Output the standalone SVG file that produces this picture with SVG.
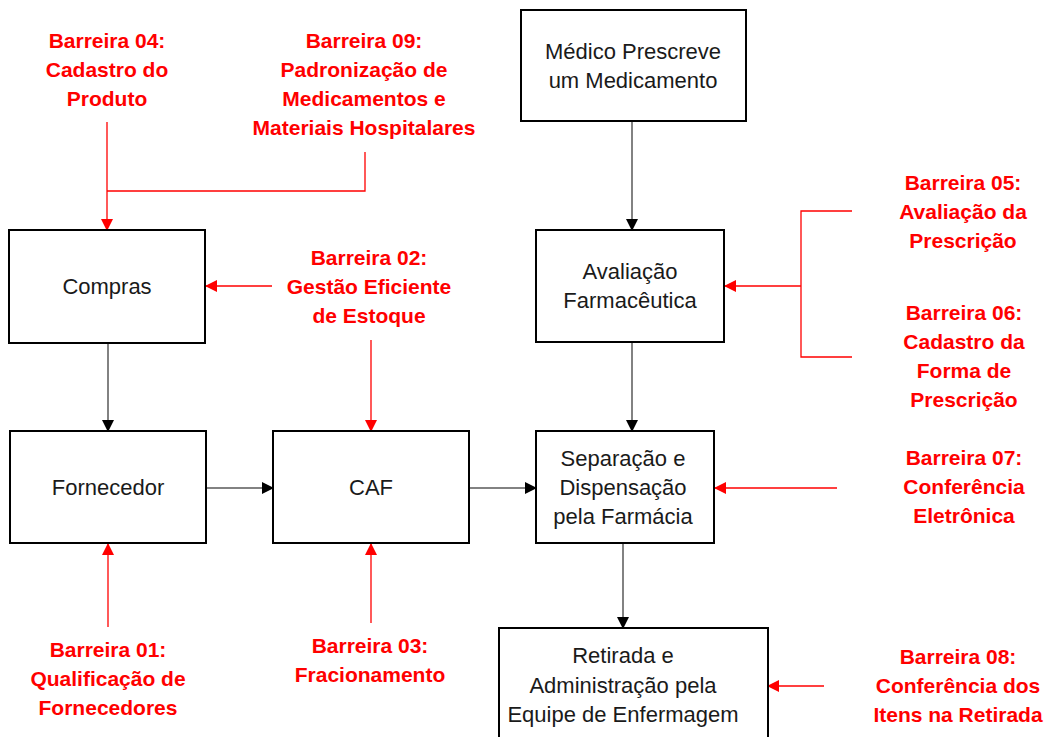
<svg xmlns="http://www.w3.org/2000/svg" width="1047" height="737" viewBox="0 0 1047 737">
<style>
.box{fill:#fff;stroke:#000;stroke-width:2}
.t{font-family:"Liberation Sans",Arial,sans-serif;font-size:22px;fill:#1a1a1a;text-anchor:middle}
.r{font-family:"Liberation Sans",Arial,sans-serif;font-size:21px;font-weight:bold;fill:#ff0000;text-anchor:middle}
.k{fill:none;stroke:#595959;stroke-width:1.5}
.rl{fill:none;stroke:#ff0000;stroke-width:1.3}
</style>
<defs>
<marker id="ak" markerUnits="userSpaceOnUse" markerWidth="12" markerHeight="12" viewBox="0 0 12 12" refX="11" refY="6" orient="auto"><path d="M0,0 L12,6 L0,12 Z" fill="#000"/></marker>
<marker id="ar" markerUnits="userSpaceOnUse" markerWidth="12" markerHeight="12" viewBox="0 0 12 12" refX="11" refY="6" orient="auto"><path d="M0,0 L12,6 L0,12 Z" fill="#ff0000"/></marker>
</defs>
<g id="connectors">
<line class="k" x1="632" y1="121" x2="632" y2="230" marker-end="url(#ak)"/>
<line class="k" x1="108" y1="343" x2="108" y2="431" marker-end="url(#ak)"/>
<line class="k" x1="206" y1="488" x2="273" y2="488" marker-end="url(#ak)"/>
<line class="k" x1="469" y1="488" x2="536" y2="488" marker-end="url(#ak)"/>
<line class="k" x1="632" y1="342" x2="632" y2="431" marker-end="url(#ak)"/>
<line class="k" x1="623" y1="543" x2="623" y2="628" marker-end="url(#ak)"/>
<line class="rl" x1="107" y1="122" x2="107" y2="230" marker-end="url(#ar)"/>
<polyline class="rl" points="365,152 365,191 107,191"/>
<line class="rl" x1="272" y1="286" x2="206" y2="286" marker-end="url(#ar)"/>
<line class="rl" x1="371" y1="340" x2="371" y2="431" marker-end="url(#ar)"/>
<line class="rl" x1="108" y1="627" x2="108" y2="544" marker-end="url(#ar)"/>
<line class="rl" x1="371" y1="623" x2="371" y2="544" marker-end="url(#ar)"/>
<polyline class="rl" points="852,211 801,211 801,357 852,357"/>
<line class="rl" x1="801" y1="286" x2="725" y2="286" marker-end="url(#ar)"/>
<line class="rl" x1="837" y1="488" x2="715" y2="488" marker-end="url(#ar)"/>
<line class="rl" x1="824" y1="686" x2="768" y2="686" marker-end="url(#ar)"/>
</g>
<g id="medico"><rect class="box" x="521" y="10" width="225" height="111"/><text class="t" x="633" y="59">Médico Prescreve</text><text class="t" x="633" y="88">um Medicamento</text></g>
<g id="compras"><rect class="box" x="9" y="230" width="196" height="113"/><text class="t" x="107" y="294">Compras</text></g>
<g id="avaliacao"><rect class="box" x="536" y="230" width="188" height="112"/><text class="t" x="630" y="279">Avaliação</text><text class="t" x="630" y="308">Farmacêutica</text></g>
<g id="fornecedor"><rect class="box" x="10" y="431" width="196" height="112"/><text class="t" x="108" y="495">Fornecedor</text></g>
<g id="caf"><rect class="box" x="273" y="431" width="196" height="112"/><text class="t" x="371" y="495">CAF</text></g>
<g id="separacao"><rect class="box" x="536" y="431" width="178" height="112"/><text class="t" x="623" y="466">Separação e</text><text class="t" x="623" y="495">Dispensação</text><text class="t" x="623" y="524">pela Farmácia</text></g>
<g id="retirada"><rect class="box" x="499" y="628" width="269" height="115"/><text class="t" x="623" y="663">Retirada e</text><text class="t" x="623" y="693">Administração pela</text><text class="t" x="623" y="722">Equipe de Enfermagem</text></g>
<g id="b04"><text class="r" x="107" y="48">Barreira 04:</text><text class="r" x="107" y="77">Cadastro do</text><text class="r" x="107" y="106">Produto</text></g>
<g id="b09"><text class="r" x="364" y="48">Barreira 09:</text><text class="r" x="364" y="77">Padronização de</text><text class="r" x="364" y="106">Medicamentos e</text><text class="r" x="364" y="135">Materiais Hospitalares</text></g>
<g id="b02"><text class="r" x="369" y="265">Barreira 02:</text><text class="r" x="369" y="294">Gestão Eficiente</text><text class="r" x="369" y="323">de Estoque</text></g>
<g id="b05"><text class="r" x="963" y="190">Barreira 05:</text><text class="r" x="963" y="219">Avaliação da</text><text class="r" x="963" y="248">Prescrição</text></g>
<g id="b06"><text class="r" x="964" y="320">Barreira 06:</text><text class="r" x="964" y="349">Cadastro da</text><text class="r" x="964" y="378">Forma de</text><text class="r" x="964" y="407">Prescrição</text></g>
<g id="b07"><text class="r" x="964" y="465">Barreira 07:</text><text class="r" x="964" y="494">Conferência</text><text class="r" x="964" y="523">Eletrônica</text></g>
<g id="b08"><text class="r" x="958" y="664">Barreira 08:</text><text class="r" x="958" y="693">Conferência dos</text><text class="r" x="958" y="722">Itens na Retirada</text></g>
<g id="b01"><text class="r" x="108" y="657">Barreira 01:</text><text class="r" x="108" y="686">Qualificação de</text><text class="r" x="108" y="715">Fornecedores</text></g>
<g id="b03"><text class="r" x="370" y="653">Barreira 03:</text><text class="r" x="370" y="682">Fracionamento</text></g>
</svg>
